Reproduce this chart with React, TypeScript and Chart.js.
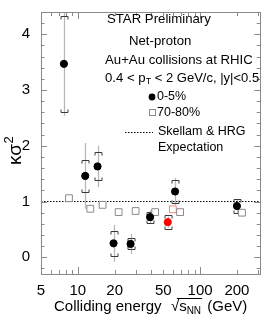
import React, { useEffect, useRef } from "react";
import { Chart, registerables } from "chart.js";

Chart.register(...registerables);

// ---- data ----
const energies = [7.7, 11.5, 14.5, 19.6, 27, 39, 62.4, 200];
const central = [3.47, 1.46, 1.63, 0.25, 0.24, 0.72, 1.18, 0.92];
const centralStat = [0.93, 0.59, 0.37, 0.33, 0.18, 0.12, 0.24, 0.12];
const centralSys = [0.86, 0.29, 0.25, 0.22, 0.1, 0.1, 0.21, 0.13];
const peripheral = [1.06, 0.87, 0.94, 0.81, 0.83, 0.81, 0.81, 0.8];
const energy54 = [54.4];
const central54 = [0.63];
const central54Stat = [0.1];
const central54Sys = [0.13];
const peripheral54 = [0.86];
const expectationValue = 1;
const xTickLabels = [5, 10, 20, 50, 100, 200];
const yTickLabels = [0, 1, 2, 3, 4];
const X_MIN = 5;
const X_MAX = 310;
const Y_MIN = -0.3;
const Y_MAX = 4.4;
const PERIPHERAL_SHIFT = 1.1; // display offset so open squares sit beside the full points

const FONT = "'Liberation Sans', Arial, Helvetica, sans-serif";

function r(v: number) {
  return Math.round(v) + 0.5;
}

const customPlugin = {
  id: "customDraw",
  beforeDatasetsDraw(chart: any) {
    const { ctx } = chart;
    const xs = chart.scales.x;
    const ys = chart.scales.y;
    ctx.save();
    const drawErr = (ens: number[], vals: number[], stat: number[], sys: number[]) => {
      ens.forEach((e, i) => {
        const px = r(xs.getPixelForValue(e));
        ctx.strokeStyle = "#b8b8b8";
        ctx.lineWidth = 1.3;
        ctx.beginPath();
        ctx.moveTo(px, ys.getPixelForValue(vals[i] + stat[i]));
        ctx.lineTo(px, ys.getPixelForValue(vals[i] - stat[i]));
        ctx.stroke();
        const t = r(ys.getPixelForValue(vals[i] + sys[i]));
        const b = r(ys.getPixelForValue(vals[i] - sys[i]));
        const w = 3.5;
        const h = 3;
        ctx.strokeStyle = "#3a3a3a";
        ctx.lineWidth = 1;
        ctx.beginPath();
        ctx.moveTo(px - w, t + h);
        ctx.lineTo(px - w, t);
        ctx.lineTo(px + w, t);
        ctx.lineTo(px + w, t + h);
        ctx.moveTo(px - w, b - h);
        ctx.lineTo(px - w, b);
        ctx.lineTo(px + w, b);
        ctx.lineTo(px + w, b - h);
        ctx.stroke();
      });
    };
    drawErr(energies, central, centralStat, centralSys);
    drawErr(energy54, central54, central54Stat, central54Sys);
    ctx.restore();
  },
  afterDraw(chart: any) {
    const { ctx, chartArea } = chart;
    const xs = chart.scales.x;
    const ys = chart.scales.y;
    const { left, right, top, bottom } = chartArea;
    ctx.save();
    // frame
    ctx.strokeStyle = "#8a8a8a";
    ctx.lineWidth = 1;
    ctx.strokeRect(r(left), r(top), Math.round(right - left), Math.round(bottom - top));
    // x ticks (log)
    ctx.beginPath();
    for (let dec = 1; dec <= 100; dec *= 10) {
      for (let m = 1; m <= 9; m++) {
        const v = m * dec;
        if (v <= X_MIN || v >= X_MAX) continue;
        const px = r(xs.getPixelForValue(v));
        const len = m === 1 ? 7 : 4;
        ctx.moveTo(px, bottom);
        ctx.lineTo(px, bottom - len);
        ctx.moveTo(px, top);
        ctx.lineTo(px, top + len);
      }
    }
    // y ticks
    for (let k = -1; k <= 22; k++) {
      const v = k * 0.2;
      if (v <= Y_MIN || v >= Y_MAX) continue;
      const py = r(ys.getPixelForValue(v));
      const major = k % 5 === 0;
      const len = major ? 6 : 3.5;
      ctx.moveTo(left, py);
      ctx.lineTo(left + len, py);
      ctx.moveTo(right, py);
      ctx.lineTo(right - len, py);
    }
    ctx.stroke();

    ctx.fillStyle = "#000";
    ctx.textBaseline = "middle";
    ctx.textAlign = "left";

    // header text
    ctx.font = `13.2px ${FONT}`;
    ctx.fillText("STAR Preliminary", 107, 19);
    ctx.fillText("Net-proton", 129, 41);
    ctx.fillText("Au+Au collisions at RHIC", 105, 60);
    let cx = 105;
    const line4y = 78;
    const seg1 = "0.4 < p";
    ctx.fillText(seg1, cx, line4y);
    cx += ctx.measureText(seg1).width;
    ctx.font = `9px ${FONT}`;
    ctx.fillText("T", cx, line4y + 4);
    cx += ctx.measureText("T").width;
    ctx.font = `13px ${FONT}`;
    ctx.fillText(" < 2 GeV/c, |y|<0.5", cx, line4y);

    // legend
    ctx.font = `12.5px ${FONT}`;
    ctx.beginPath();
    ctx.arc(152, 97, 3.4, 0, Math.PI * 2);
    ctx.fill();
    ctx.fillText("0-5%", 157, 97);
    ctx.strokeStyle = "#8a8a8a";
    ctx.strokeRect(149.5, 109.5, 6, 6);
    ctx.fillText("70-80%", 157, 112.5);
    ctx.strokeStyle = "#000";
    ctx.setLineDash([1.5, 1.5]);
    ctx.beginPath();
    ctx.moveTo(125, 132.5);
    ctx.lineTo(153, 132.5);
    ctx.stroke();
    ctx.setLineDash([]);
    ctx.fillText("Skellam & HRG", 158, 132);
    ctx.fillText("Expectation", 158, 147.5);

    // x axis title
    ctx.font = `15px ${FONT}`;
    let tx = 54;
    const ty = 307;
    const t1 = "Colliding energy  ";
    ctx.fillText(t1, tx, ty);
    tx += ctx.measureText(t1).width + 1;
    const rootX = tx;
    ctx.fillText("\u221A", tx, ty);
    tx += ctx.measureText("\u221A").width;
    ctx.fillText("s", tx, ty);
    tx += ctx.measureText("s").width;
    ctx.font = `10px ${FONT}`;
    ctx.fillText("NN", tx, ty + 4);
    tx += ctx.measureText("NN").width;
    ctx.lineWidth = 1;
    ctx.strokeStyle = "#000";
    ctx.beginPath();
    ctx.moveTo(rootX + 6, ty - 8.5);
    ctx.lineTo(tx + 1, ty - 8.5);
    ctx.stroke();
    ctx.font = `15px ${FONT}`;
    ctx.fillText(" (GeV)", tx + 2, ty);

    // y axis title
    ctx.save();
    ctx.translate(16, 151);
    ctx.rotate(-Math.PI / 2);
    ctx.textAlign = "left";
    ctx.font = `19px ${FONT}`;
    const k = "\u03BA\u03C3";
    const kw = ctx.measureText(k).width;
    ctx.font = `13px ${FONT}`;
    const sw = ctx.measureText("2").width;
    const total = kw + sw;
    ctx.font = `19px ${FONT}`;
    ctx.fillText(k, -total / 2, 0);
    ctx.font = `13px ${FONT}`;
    ctx.fillText("2", -total / 2 + kw + 0.5, -6.5);
    ctx.restore();

    ctx.restore();
  },
};

export default function App() {
  const ref = useRef<HTMLCanvasElement | null>(null);
  useEffect(() => {
    if (!ref.current) return;
    const chart = new Chart(ref.current, {
      type: "scatter",
      data: {
        datasets: [
          {
            label: "0-5%",
            data: energies.map((e, i) => ({ x: e, y: central[i] })),
            pointStyle: "circle",
            pointRadius: 3.6,
            backgroundColor: "#000",
            borderColor: "#000",
            borderWidth: 1,
          },
          {
            label: "0-5% 54.4",
            data: energy54.map((e, i) => ({ x: e, y: central54[i] })),
            pointStyle: "circle",
            pointRadius: 3.6,
            backgroundColor: "#ff0000",
            borderColor: "#ff0000",
            borderWidth: 1,
          },
          {
            label: "70-80%",
            data: energies.map((e, i) => ({ x: e * PERIPHERAL_SHIFT, y: peripheral[i] })),
            pointStyle: "rect",
            pointRadius: 4.8,
            backgroundColor: "#fff",
            borderColor: "#8a8a8a",
            borderWidth: 1,
          },
          {
            label: "70-80% 54.4",
            data: energy54.map((e, i) => ({ x: e * PERIPHERAL_SHIFT, y: peripheral54[i] })),
            pointStyle: "rect",
            pointRadius: 4.8,
            backgroundColor: "#fff",
            borderColor: "#f08080",
            borderWidth: 1,
          },
          {
            type: "line",
            label: "Skellam & HRG Expectation",
            data: [
              { x: X_MIN, y: expectationValue },
              { x: X_MAX, y: expectationValue },
            ],
            borderColor: "#000",
            borderWidth: 1,
            borderDash: [1.5, 1.5],
            pointRadius: 0,
            fill: false,
          } as any,
        ],
      },
      options: {
        animation: false,
        responsive: false,
        devicePixelRatio: 1,
        layout: { padding: { left: 0, top: 4, right: 4, bottom: 0 } },
        plugins: { legend: { display: false }, tooltip: { enabled: false } },
        scales: {
          x: {
            type: "logarithmic",
            min: X_MIN,
            max: X_MAX,
            grid: { display: false },
            border: { display: false },
            afterBuildTicks: (s: any) => {
              s.ticks = xTickLabels.map((v) => ({ value: v }));
            },
            afterFit: (s: any) => {
              s.height = 47;
            },
            ticks: {
              autoSkip: false,
              maxRotation: 0,
              padding: 0,
              color: "#000",
              font: { family: FONT, size: 15 },
              callback: (v: any) => String(v),
            },
          },
          y: {
            type: "linear",
            min: Y_MIN,
            max: Y_MAX,
            grid: { display: false },
            border: { display: false },
            afterBuildTicks: (s: any) => {
              s.ticks = yTickLabels.map((v) => ({ value: v }));
            },
            afterFit: (s: any) => {
              s.width = 41;
            },
            ticks: {
              padding: 3,
              color: "#000",
              font: { family: FONT, size: 15 },
              callback: (v: any) => String(v),
            },
          },
        },
      },
      plugins: [customPlugin],
    });
    return () => chart.destroy();
  }, []);
  return (
    <div style={{ position: "absolute", left: 0, top: 0, width: 266, height: 321, background: "#fff" }}>
      <canvas ref={ref} width={266} height={321} />
    </div>
  );
}
